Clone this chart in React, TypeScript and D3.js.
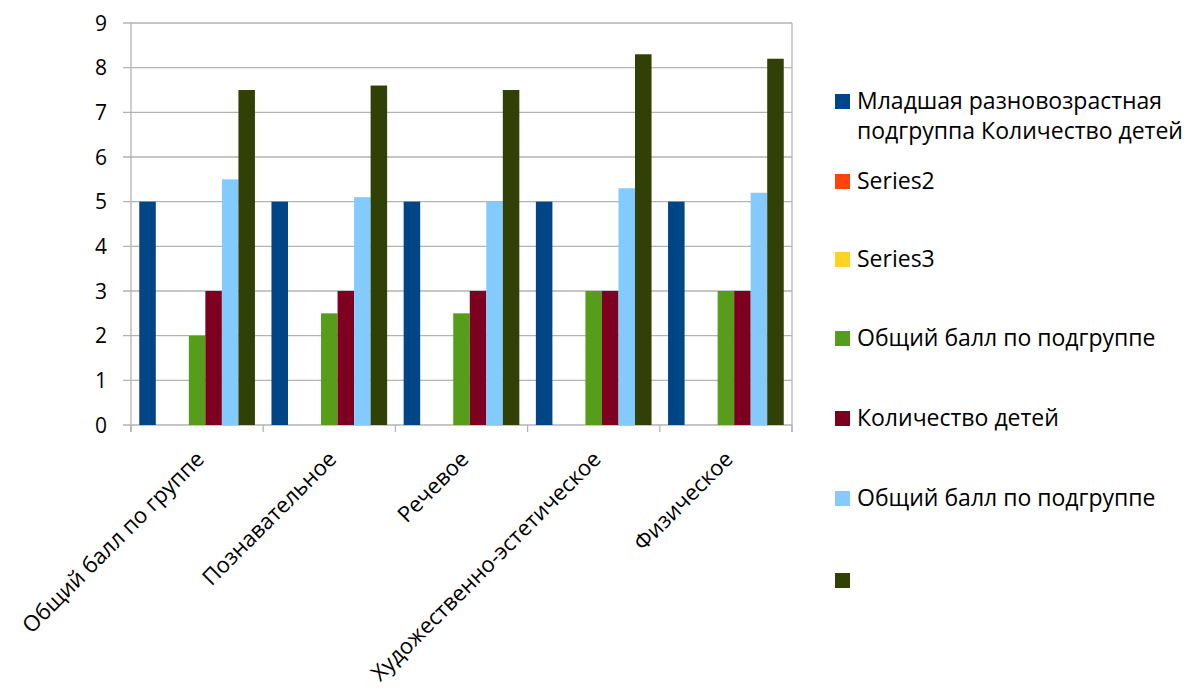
import React from 'react';
import * as d3 from 'd3';

const categories = [
  'Общий балл по группе',
  'Познавательное',
  'Речевое',
  'Художественно-эстетическое',
  'Физическое',
];

const seriesNames = [
  'Младшая разновозрастная подгруппа Количество детей',
  'Series2',
  'Series3',
  'Общий балл по подгруппе',
  'Количество детей',
  'Общий балл по подгруппе',
  '',
];

const seriesColors = ['#004586', '#ff420e', '#ffd320', '#579d1c', '#7e0021', '#83caff', '#314004'];

const youngCount = [5, 5, 5, 5, 5];
const series2 = [0, 0, 0, 0, 0];
const series3 = [0, 0, 0, 0, 0];
const subgroupScoreA = [2, 2.5, 2.5, 3, 3];
const childrenCount = [3, 3, 3, 3, 3];
const subgroupScoreB = [5.5, 5.1, 5.0, 5.3, 5.2];
const lastSeries = [7.5, 7.6, 7.5, 8.3, 8.2];

const yTicks = [0, 1, 2, 3, 4, 5, 6, 7, 8, 9];

const values = [youngCount, series2, series3, subgroupScoreA, childrenCount, subgroupScoreB, lastSeries];

const W = 1186;
const H = 693;
const PLOT = { left: 131, right: 792, top: 23, bottom: 425 };
const FONT = '"Open Sans", "Noto Sans", sans-serif';
const GRID = '#b3b3b3';

// legend row centres (first line for the two-line entry)
const legendY = [101, 181, 259, 338, 418, 498, 580];

export default function App() {
  const x0 = d3.scaleBand<string>().domain(categories).range([PLOT.left, PLOT.right]);
  const x1 = d3
    .scaleBand<number>()
    .domain(d3.range(seriesNames.length))
    .range([0, x0.bandwidth()])
    .paddingOuter(0.5);
  const y = d3.scaleLinear().domain([0, 9]).range([PLOT.bottom, PLOT.top]);

  const tickXs = [...categories.map(c => x0(c) as number), PLOT.right];

  return (
    <svg width={W} height={H} style={{ position: 'absolute', left: 0, top: 0 }} fontFamily={FONT}>
      <rect width={W} height={H} fill="#fff" />
      {/* grid + y ticks */}
      {yTicks.map(t => (
        <g key={t}>
          <line x1={PLOT.left - 8} x2={PLOT.right} y1={y(t)} y2={y(t)} stroke={GRID} strokeWidth={1.3} />
          <text x={107} y={y(t)} dy="0.36em" textAnchor="end" fontSize={21} fill="#000">
            {t}
          </text>
        </g>
      ))}
      {/* axes */}
      <line x1={PLOT.left} x2={PLOT.left} y1={PLOT.top} y2={PLOT.bottom + 7} stroke={GRID} strokeWidth={1.3} />
      <line x1={PLOT.right} x2={PLOT.right} y1={PLOT.top} y2={PLOT.bottom + 7} stroke={GRID} strokeWidth={1.3} />
      {tickXs.map((tx, i) => (
        <line key={i} x1={tx} x2={tx} y1={PLOT.bottom} y2={PLOT.bottom + 7} stroke={GRID} strokeWidth={1.3} />
      ))}
      {/* bars */}
      {categories.map((c, ci) => (
        <g key={c} transform={`translate(${x0(c)},0)`}>
          {values.map((vals, si) =>
            vals[ci] > 0 ? (
              <rect
                key={si}
                x={x1(si)}
                width={x1.bandwidth()}
                y={y(vals[ci])}
                height={y(0) - y(vals[ci])}
                fill={seriesColors[si]}
              />
            ) : null,
          )}
        </g>
      ))}
      {/* category labels */}
      {categories.map(c => {
        const cx = (x0(c) as number) + x0.bandwidth() / 2 + 3;
        return (
          <text
            key={c}
            transform={`translate(${cx},${PLOT.bottom + 30}) rotate(-45)`}
            textAnchor="end"
            dy="0.35em"
            fontSize={22}
            fill="#000"
          >
            {c}
          </text>
        );
      })}
      {/* legend */}
      {seriesNames.map((name, i) => {
        const ly = legendY[i];
        const lines = i === 0 ? ['Младшая разновозрастная', 'подгруппа Количество детей'] : [name];
        return (
          <g key={i}>
            <rect x={835} y={ly - 7} width={15} height={15} fill={seriesColors[i]} />
            {lines.map((ln, k) => (
              <text key={k} x={857} y={ly + k * 30} dy="0.35em" fontSize={23} fill="#000">
                {ln}
              </text>
            ))}
          </g>
        );
      })}
    </svg>
  );
}
